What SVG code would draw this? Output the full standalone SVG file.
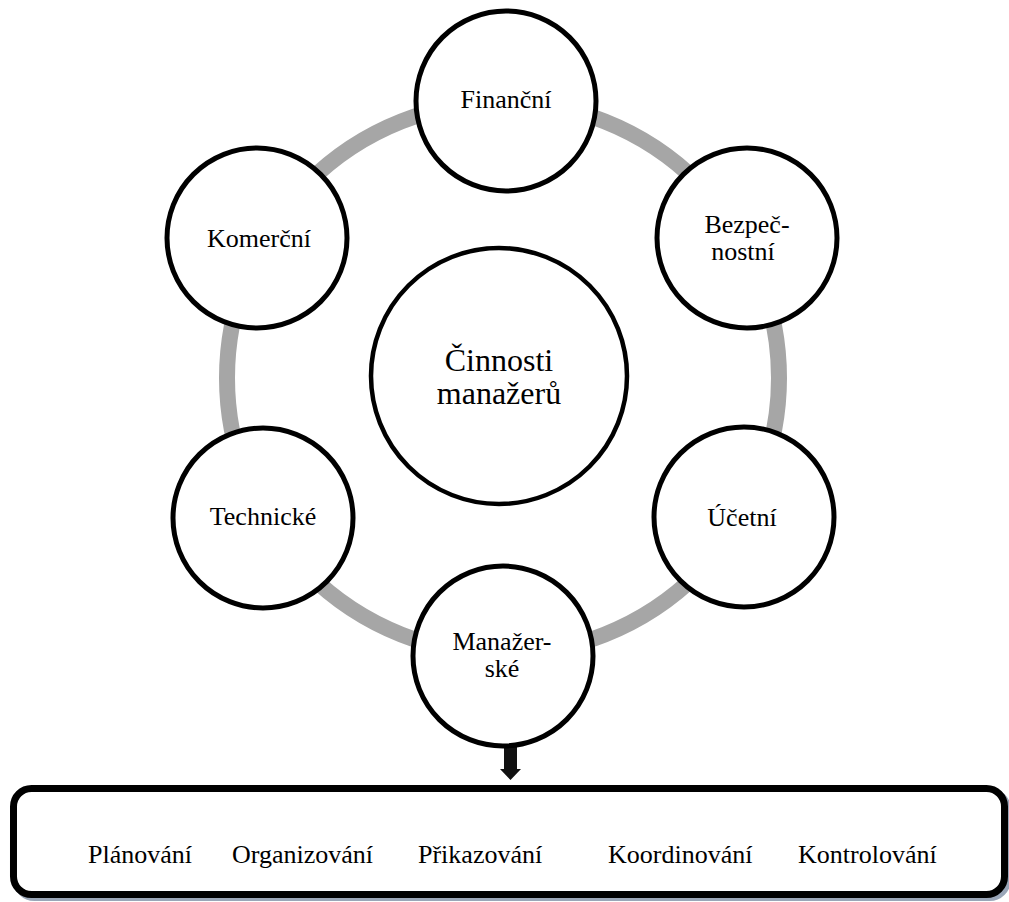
<svg xmlns="http://www.w3.org/2000/svg" width="1009" height="902" viewBox="0 0 1009 902">
  <style>
    .ring { fill: none; stroke: #a6a6a6; stroke-width: 16; }
    .node { fill: #ffffff; stroke: #000000; stroke-width: 5; }
    .hub { fill: #ffffff; stroke: #000000; stroke-width: 4.5; }
    .lbl { font-family: "Liberation Serif", "Times New Roman", serif; font-size: 26px; fill: #000000; text-anchor: middle; }
    .hubl { font-family: "Liberation Serif", "Times New Roman", serif; font-size: 32px; fill: #000000; text-anchor: middle; }
    .item { font-family: "Liberation Serif", "Times New Roman", serif; font-size: 26px; fill: #000000; }
  </style>
  <rect x="0" y="0" width="1009" height="902" fill="#ffffff"/>

  <!-- connectors: ring joining the outer activities and the arrow down to the list -->
  <g id="connectors">
    <circle class="ring" cx="503" cy="378" r="276"/>
    <polygon points="504,745 517,745 517,769 521,769 510.5,780 500,769 504,769" fill="#111111"/>
  </g>

  <g id="hub">
    <circle class="hub" cx="499" cy="376" r="128"/>
    <text class="hubl" x="499" y="371">Činnosti</text>
    <text class="hubl" x="499" y="404">manažerů</text>
  </g>

  <g id="financni">
    <circle class="node" cx="506" cy="101" r="90"/>
    <text class="lbl" x="506" y="108">Finanční</text>
  </g>

  <g id="bezpecnostni">
    <circle class="node" cx="747" cy="238" r="90"/>
    <text class="lbl" x="747" y="233">Bezpeč-</text>
    <text class="lbl" x="743" y="260">nostní</text>
  </g>

  <g id="ucetni">
    <circle class="node" cx="744" cy="517" r="90"/>
    <text class="lbl" x="742" y="526">Účetní</text>
  </g>

  <g id="manazerske">
    <circle class="node" cx="503" cy="656" r="90"/>
    <text class="lbl" x="502" y="650">Manažer-</text>
    <text class="lbl" x="502" y="677">ské</text>
  </g>

  <g id="technicke">
    <circle class="node" cx="263" cy="518" r="90"/>
    <text class="lbl" x="263" y="525">Technické</text>
  </g>

  <g id="komercni">
    <circle class="node" cx="257" cy="238" r="90"/>
    <text class="lbl" x="259" y="247">Komerční</text>
  </g>

  <g id="funkce">
    <rect x="16.5" y="791.5" width="991" height="106" rx="18" fill="none" stroke="#9aa6b8" stroke-width="7"/>
    <rect x="13.5" y="788.5" width="991" height="106" rx="18" fill="#ffffff" stroke="#000000" stroke-width="7"/>
    <text class="item" x="88" y="863">Plánování</text>
    <text class="item" x="232" y="863">Organizování</text>
    <text class="item" x="418" y="863">Přikazování</text>
    <text class="item" x="608" y="863">Koordinování</text>
    <text class="item" x="798" y="863">Kontrolování</text>
  </g>
</svg>
